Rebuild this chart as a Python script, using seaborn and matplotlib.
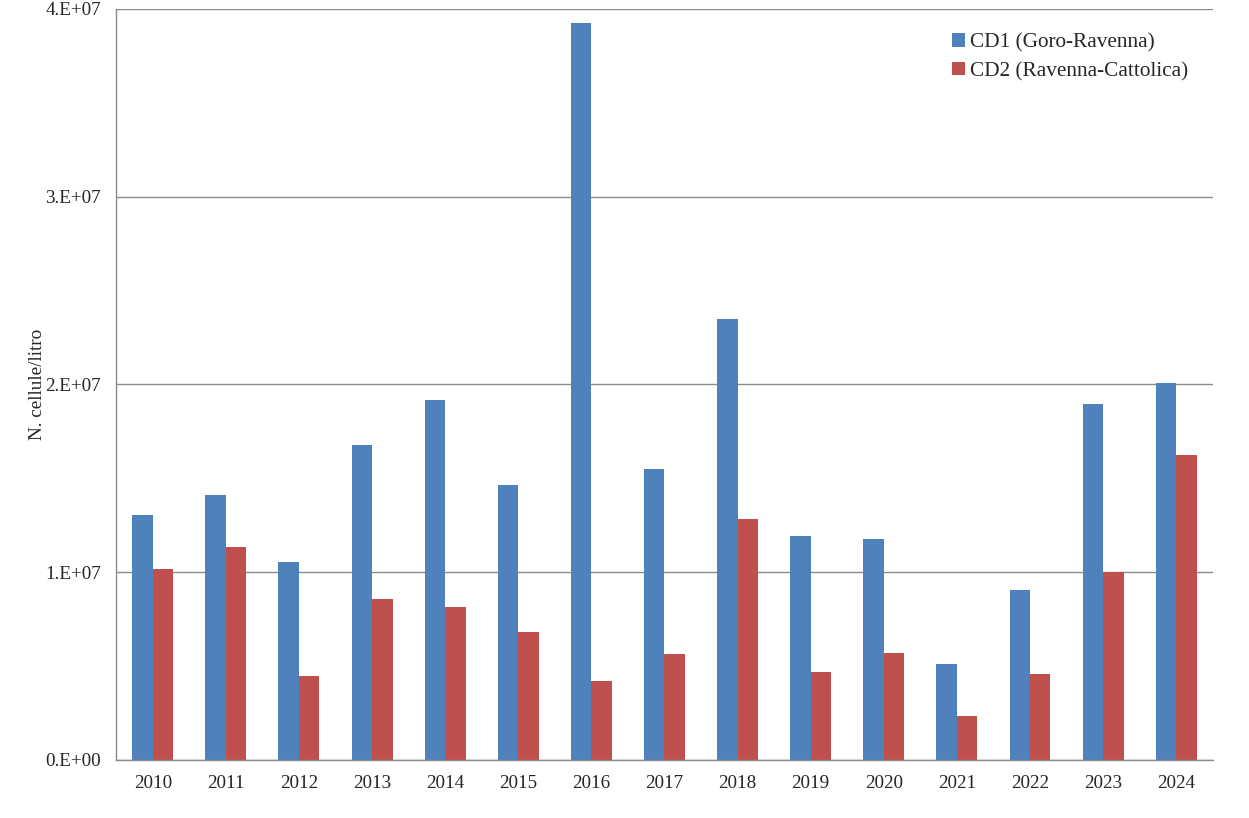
import matplotlib
matplotlib.use("Agg")
import matplotlib.pyplot as plt
import seaborn as sns
import pandas as pd
from matplotlib.ticker import FuncFormatter, FixedLocator

years = [str(y) for y in range(2010, 2025)]
cd1 = [1.305e7, 1.412e7, 1.052e7, 1.675e7, 1.918e7, 1.465e7, 3.925e7, 1.552e7,
       2.35e7, 1.195e7, 1.175e7, 0.513e7, 0.903e7, 1.898e7, 2.01e7]
cd2 = [1.016e7, 1.136e7, 0.445e7, 0.858e7, 0.812e7, 0.683e7, 0.422e7, 0.563e7,
       1.284e7, 0.47e7, 0.567e7, 0.232e7, 0.46e7, 1.002e7, 1.625e7]
series = ["CD1 (Goro-Ravenna)", "CD2 (Ravenna-Cattolica)"]
colors = ["#4F81BD", "#C0504D"]

df = pd.DataFrame({
    "Anno": years * 2,
    "Valore": cd1 + cd2,
    "Serie": [series[0]] * len(years) + [series[1]] * len(years),
})

sns.set_style("white")
plt.rcParams["font.family"] = ["Liberation Serif", "DejaVu Serif"]

fig = plt.figure(figsize=(12.49, 8.18), dpi=100)
ax = fig.add_axes([0.093, 0.071, 0.878, 0.918])

sns.barplot(data=df, x="Anno", y="Valore", hue="Serie", palette=colors,
            width=0.56, saturation=1, ax=ax, edgecolor="none", linewidth=0)

ax.set_ylim(0, 4e7)
ax.set_xlim(-0.5, len(years) - 0.5)
ax.set_yticks([0, 1e7, 2e7, 3e7, 4e7])
ax.yaxis.set_major_formatter(FuncFormatter(lambda v, p: "%d.E+%02d" % (round(v / 1e7), 7) if v else "0.E+00"))
ax.yaxis.grid(True, color="#8c8c8c", linewidth=1.0)
ax.set_axisbelow(True)

# x ticks: labels at centres, tick marks at category boundaries
ax.set_xticks(range(len(years)))
ax.set_xticklabels(years)
ax.xaxis.set_minor_locator(FixedLocator([i - 0.5 for i in range(len(years) + 1)]))
ax.tick_params(axis="x", which="major", length=0, labelsize=13.8, pad=11)
ax.tick_params(axis="x", which="minor", length=5, color="#8c8c8c", direction="out")
ax.tick_params(axis="y", which="major", length=6, color="#8c8c8c", direction="out", labelsize=13.8, pad=5)

for s in ["top", "right"]:
    ax.spines[s].set_visible(False)
for s in ["left", "bottom"]:
    ax.spines[s].set_color("#8c8c8c")
    ax.spines[s].set_linewidth(1.0)

ax.set_xlabel("")
ax.set_ylabel("N. cellule/litro", fontsize=13.8)
ax.yaxis.set_label_coords(-0.064, 0.5)

leg = ax.legend(loc="upper right", bbox_to_anchor=(0.995, 0.993), frameon=False,
                fontsize=15.3, handlelength=0.6, handleheight=0.6, handletextpad=0.25,
                labelspacing=0.43)

fig.savefig("out.png", dpi=100)
